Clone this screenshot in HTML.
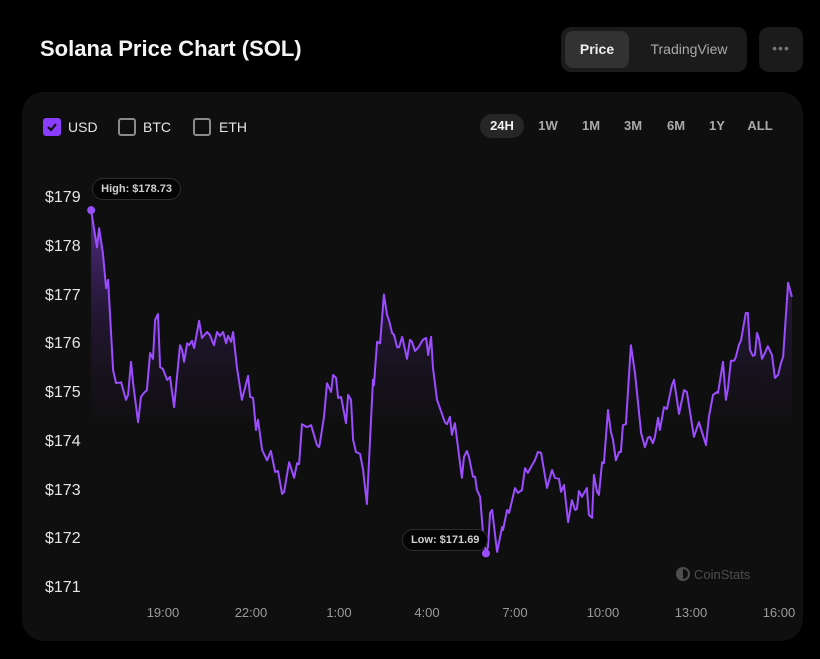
<!DOCTYPE html>
<html><head><meta charset="utf-8"><style>
*{margin:0;padding:0;box-sizing:border-box}
body{width:820px;height:659px;background:#000;font-family:"Liberation Sans",sans-serif;position:relative;overflow:hidden;color:#fff}
.abs{position:absolute}
#title{left:40px;top:36px;font-size:22px;font-weight:bold;color:#f5f5f5}
#toggle{left:561px;top:27px;width:186px;height:45px;background:#1b1b1b;border-radius:10px}
#price-btn{left:4px;top:4px;width:64px;height:37px;background:#323232;border-radius:8px;font-size:14px;font-weight:bold;color:#eee;text-align:center;line-height:37px}
#tv-btn{left:80px;top:4px;width:96px;height:37px;font-size:14px;color:#aaa;line-height:37px;text-align:center}
#more{left:759px;top:27px;width:44px;height:45px;background:#1b1b1b;border-radius:10px;color:#777;font-size:14px;text-align:center;line-height:43px;letter-spacing:1px}
#card{left:22px;top:92px;width:781px;height:549px;background:#0f0f0f;border-radius:22px}
.cb{width:18px;height:18px;border:2px solid #8a8a8a;border-radius:3px}
.cbl{font-size:14px;color:#e6e6e6}
.per{font-size:13px;font-weight:bold;color:#aaa;text-align:center;width:40px;height:24px;line-height:24px;border-radius:12px}
.yl{font-size:16px;color:#e4e4e4;left:45px}
.xl{font-size:13px;color:#9a9a9a;top:605px;width:60px;text-align:center}
</style></head><body>
<div id="title" class="abs">Solana Price Chart (SOL)</div>
<div id="toggle" class="abs">
<div id="price-btn" class="abs">Price</div>
<div id="tv-btn" class="abs">TradingView</div>
</div>
<div id="more" class="abs">•••</div>
<div id="card" class="abs"></div>

<div class="abs cb" style="left:43px;top:118px;background:#8b3dff;border-color:#8b3dff">
<svg width="14" height="14" style="position:absolute;left:0;top:0"><path d="M3 7 L6 10 L11 4" stroke="#111" stroke-width="2.2" fill="none"/></svg></div>
<div class="abs cbl" style="left:68px;top:119px">USD</div>
<div class="abs cb" style="left:118px;top:118px"></div>
<div class="abs cbl" style="left:143px;top:119px">BTC</div>
<div class="abs cb" style="left:193px;top:118px"></div>
<div class="abs cbl" style="left:219px;top:119px">ETH</div>

<div class="abs per" style="left:480px;top:114px;width:44px;background:#262626;color:#f0f0f0">24H</div>
<div class="abs per" style="left:528px;top:114px">1W</div>
<div class="abs per" style="left:571px;top:114px">1M</div>
<div class="abs per" style="left:613px;top:114px">3M</div>
<div class="abs per" style="left:656px;top:114px">6M</div>
<div class="abs per" style="left:697px;top:114px">1Y</div>
<div class="abs per" style="left:740px;top:114px">ALL</div>

<svg id="chart" class="abs" style="left:0;top:0" width="820" height="659">
<defs><linearGradient id="fillg" gradientUnits="userSpaceOnUse" x1="0" y1="200" x2="0" y2="430">
<stop offset="0" stop-color="#9a4cff" stop-opacity="0.55"/><stop offset="0.5" stop-color="#7a3ad0" stop-opacity="0.18"/><stop offset="1" stop-color="#5a2aa0" stop-opacity="0"/></linearGradient></defs>
</svg>

<div class="abs" style="left:676px;top:567px;font-size:13px;color:#4e4e4e">
<span style="display:inline-block;width:14px;height:14px;border-radius:50%;border:2px solid #4e4e4e;vertical-align:-2px;margin-right:4px;background:linear-gradient(90deg,#4e4e4e 50%,transparent 50%)"></span>CoinStats</div>

<script>
const yTicks=[179,178,177,176,175,174,173,172,171];
const xTickLabels=["19:00","22:00","1:00","4:00","7:00","10:00","13:00","16:00"];
const xTickHours=[3,6,9,12,15,18,21,24];
const times=[0.55,0.75,0.82,0.95,1.06,1.13,1.30,1.40,1.57,1.74,1.81,1.91,1.98,2.15,2.25,2.35,2.45,2.56,2.66,2.73,2.83,2.90,3.00,3.14,3.24,3.38,3.58,3.65,3.72,3.82,3.89,3.99,4.06,4.23,4.33,4.50,4.60,4.74,4.84,4.94,5.05,5.15,5.22,5.32,5.39,5.52,5.69,5.90,5.97,6.07,6.17,6.24,6.38,6.55,6.68,6.82,6.92,7.06,7.13,7.30,7.47,7.57,7.64,7.74,7.91,8.05,8.25,8.32,8.35,8.49,8.59,8.73,8.80,8.90,8.97,9.07,9.24,9.31,9.41,9.48,9.58,9.72,9.82,9.95,10.16,10.19,10.30,10.40,10.53,10.64,10.70,10.81,10.88,10.98,11.05,11.15,11.18,11.32,11.42,11.49,11.59,11.69,11.86,11.97,12.04,12.14,12.20,12.34,12.44,12.61,12.68,12.78,12.85,12.95,13.19,13.26,13.36,13.43,13.57,13.64,13.70,13.81,13.91,14.01,14.08,14.15,14.22,14.39,14.56,14.59,14.73,14.80,15.00,15.10,15.24,15.34,15.44,15.58,15.68,15.78,15.89,16.09,16.26,16.36,16.50,16.57,16.67,16.81,16.94,17.05,17.11,17.18,17.28,17.45,17.52,17.63,17.69,17.80,17.86,17.97,18.03,18.17,18.27,18.34,18.44,18.55,18.61,18.68,18.78,18.95,19.09,19.30,19.43,19.53,19.60,19.70,19.77,19.88,19.94,20.08,20.18,20.35,20.42,20.59,20.76,20.86,21.10,21.27,21.51,21.61,21.75,21.89,21.92,22.09,22.19,22.26,22.36,22.47,22.53,22.64,22.70,22.87,22.94,23.01,23.11,23.18,23.25,23.32,23.42,23.52,23.62,23.76,23.86,23.97,24.07,24.14,24.31,24.44];
const prices=[178.73,177.97,178.36,177.85,177.13,177.30,175.45,175.18,175.20,174.84,174.94,175.62,175.18,174.38,174.90,174.98,175.04,175.80,175.68,176.48,176.60,175.51,175.47,175.25,175.31,174.69,175.96,175.86,175.62,176.00,175.96,176.05,175.90,176.46,176.11,176.23,176.17,175.96,176.23,176.15,176.23,176.00,176.15,176.03,176.23,175.51,174.84,175.33,174.90,174.88,174.22,174.43,173.81,173.60,173.79,173.36,173.38,172.91,172.95,173.56,173.24,173.54,173.52,174.34,174.28,174.32,173.91,173.87,173.95,174.49,175.18,175.00,175.35,175.29,174.88,174.90,174.36,174.94,174.84,174.02,173.77,173.73,173.40,172.70,175.25,175.14,176.03,176.00,177.00,176.58,176.48,176.21,176.17,175.92,175.92,176.13,176.07,175.68,176.07,176.03,175.84,175.90,176.07,176.11,175.76,176.13,175.51,174.84,174.67,174.38,174.34,174.49,174.12,174.36,173.24,173.67,173.79,173.67,173.26,173.26,172.99,172.85,172.11,171.69,171.82,172.52,172.58,171.72,172.23,172.17,172.58,172.52,173.03,172.93,172.99,173.44,173.34,173.50,173.60,173.77,173.75,173.03,173.40,173.24,173.22,172.95,173.09,172.33,172.78,172.58,172.60,172.97,172.85,173.03,172.48,172.42,173.30,172.95,172.89,173.56,173.54,174.63,174.18,174.02,173.60,173.77,173.77,174.32,174.34,175.96,175.39,174.16,173.87,174.06,174.08,173.95,174.08,174.47,174.22,174.69,174.65,175.14,175.25,174.55,175.04,175.00,174.08,174.38,173.91,174.49,174.94,175.00,174.98,175.62,174.84,175.08,175.64,175.64,175.72,175.98,176.05,176.62,176.62,175.86,175.74,175.76,176.21,176.09,175.68,175.80,175.94,175.76,175.29,175.35,175.60,175.72,177.24,176.95];

const svg=document.getElementById('chart');
const NS='http://www.w3.org/2000/svg';
function X(h){return 75+h*29.333;}
function Y(p){return 197+(179-p)*48.75;}

yTicks.forEach(function(v){
  const d=document.createElement('div');
  d.className='abs yl';
  d.style.top=(Y(v)-8)+'px';
  d.textContent='$'+v;
  
  
  document.body.appendChild(d);
});
xTickLabels.forEach(function(l,i){
  const d=document.createElement('div');
  d.className='abs xl';
  d.style.left=(X(xTickHours[i])-30)+'px';
  d.textContent=l;
  
  
  document.body.appendChild(d);
});

let pts=times.map(function(t,i){return X(t).toFixed(1)+','+Y(prices[i]).toFixed(1);});
const area=document.createElementNS(NS,'path');
area.setAttribute('d','M'+X(times[0])+',440 L'+pts.join(' L')+' L'+X(times[times.length-1])+',440 Z');
area.setAttribute('fill','url(#fillg)');


svg.appendChild(area);
const line=document.createElementNS(NS,'path');
line.setAttribute('d','M'+pts.join(' L'));
line.setAttribute('fill','none');
line.setAttribute('stroke','#9b4dff');
line.setAttribute('stroke-width','2');
line.setAttribute('stroke-linejoin','round');


svg.appendChild(line);

let hi=0,lo=0;
prices.forEach(function(p,i){if(p>prices[hi])hi=i;if(p<prices[lo])lo=i;});
function marker(i,name){
  const c=document.createElementNS(NS,'circle');
  c.setAttribute('cx',X(times[i]));c.setAttribute('cy',Y(prices[i]));c.setAttribute('r','4');
  c.setAttribute('fill','#9b4dff');
  
  
  svg.appendChild(c);
}
marker(hi,'high-marker');marker(lo,'low-marker');
function tip(text,left,top,name){
  const d=document.createElement('div');
  d.className='abs';
  d.style.cssText='left:'+left+'px;top:'+top+'px;height:22px;line-height:20px;padding:0 8px;background:#050505;border:1px solid #2e2e2e;border-radius:11px;font-size:11px;font-weight:bold;color:#cfcfcf;white-space:nowrap';
  d.textContent=text;
  
  
  document.body.appendChild(d);
}
tip('High: $'+prices[hi].toFixed(2),X(times[hi])+1,Y(prices[hi])-32,'high-tooltip');
tip('Low: $'+prices[lo].toFixed(2),X(times[lo])-84,Y(prices[lo])-24,'low-tooltip');
</script>
</body></html>
